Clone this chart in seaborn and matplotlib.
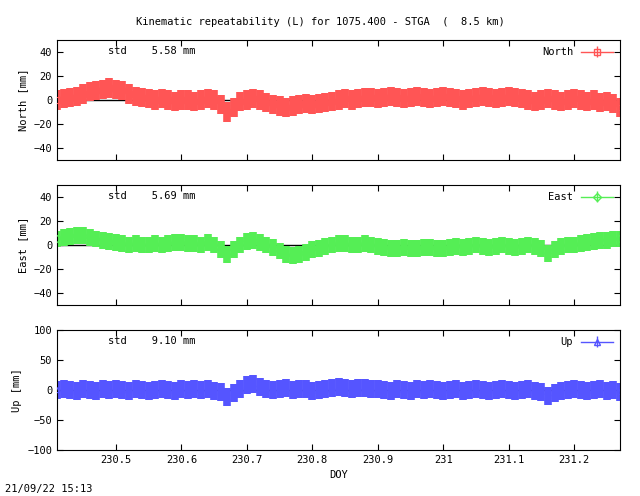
import numpy as np
import pandas as pd
import matplotlib
matplotlib.use("Agg")
import matplotlib.pyplot as plt
import seaborn as sns

doy = [round(230.41 + 0.01 * i, 2) for i in range(87)]
north = [0,1,2,3,5,7,8,9,10,9, 8,5,3,2,1,0,1,0,-1,0, 0,-1,0,1,0,-4,-10,-6,-1,0,
         1,0,-2,-4,-5,-6,-5,-4,-3,-4, -3,-2,-1,0,1,0,1,2,2,1, 2,3,2,1,2,3,2,1,2,3,
         2,1,0,1,2,3,2,1,2,3, 2,1,0,-1,0,1,0,-1,0,1, 0,-1,0,-2,-1,-3,-6]
east = [5,6,7,8,8,6,5,4,3,2, 1,0,1,0,0,1,0,1,2,2, 1,1,0,2,0,-4,-8,-4,0,3,
        4,2,0,-2,-5,-8,-9,-8,-6,-4, -3,-1,0,1,1,0,0,1,0,-1, -2,-3,-3,-2,-3,-3,-2,-2,-3,-3,
        -2,-1,-2,-1,0,-1,-2,-1,0,-1, -2,-1,0,-1,-3,-7,-4,-1,0,0, 1,2,3,4,4,5,5]
up = [0,2,0,-2,1,0,-1,2,0,1, 0,-1,1,0,-2,0,1,0,-1,2, 0,1,0,2,-1,-4,-12,-5,2,8,
      10,5,2,0,1,3,0,2,1,-1, 0,1,3,5,3,2,4,3,1,2, 0,-1,1,0,-1,2,0,1,0,-1,
      0,1,-1,0,2,0,-1,0,1,0, -1,0,1,-1,-3,-10,-5,-1,0,1, 0,-1,0,1,-2,0,-3]
spread = [8, 7, 15]
names = ["North", "East", "Up"]
stds = ["5.58", "5.69", "9.10"]
colors = ["#ff5555", "#55ee55", "#5555ff"]
markers = ["s", "D", "^"]
ylims = [(-50, 50), (-50, 50), (-100, 100)]
yticks = [[-40, -20, 0, 20, 40], [-40, -20, 0, 20, 40], [-100, -50, 0, 50, 100]]
xticks = [230.5, 230.6, 230.7, 230.8, 230.9, 231, 231.1, 231.2]
xticklabels = ["230.5", "230.6", "230.7", "230.8", "230.9", "231", "231.1", "231.2"]

plt.rcParams["font.family"] = "DejaVu Sans Mono"
plt.rcParams["font.size"] = 7.5
fig = plt.figure(figsize=(6.4, 4.96), dpi=100)
W, H = 640, 496
tops = [40, 185, 330]
for k, (vals, nm) in enumerate(zip([north, east, up], names)):
    ax = fig.add_axes([57 / W, 1 - (tops[k] + 120) / H, 563 / W, 120 / H])
    df = pd.DataFrame({"doy": doy, "v": vals})
    ax.axhline(0, color="black", lw=1, zorder=1)
    ax.errorbar(df["doy"], df["v"], yerr=spread[k], fmt="none", ecolor=colors[k],
                elinewidth=5.5, zorder=2)
    sns.scatterplot(data=df, x="doy", y="v", ax=ax, marker=markers[k], s=14,
                    facecolor="none", edgecolor=colors[k], linewidth=0.8, zorder=3, legend=False)
    ax.errorbar([], [], yerr=[], color=colors[k], marker=markers[k], mfc="none",
                ms=4, capsize=3, lw=1, label=nm)
    ax.legend(loc="upper right", frameon=False, markerfirst=False, handlelength=3,
              borderaxespad=0.3)
    ax.text(0.09, 0.88, f"std    {stds[k]} mm", transform=ax.transAxes)
    ax.set_xlim(230.41, 231.27)
    ax.set_ylim(*ylims[k])
    ax.set_yticks(yticks[k])
    ax.set_xticks(xticks)
    ax.tick_params(direction="in", top=True, right=True, length=4)
    if k == 2:
        ax.set_xticklabels(xticklabels)
        ax.set_xlabel("DOY")
    else:
        ax.set_xticklabels([])
        ax.set_xlabel("")
    ax.set_ylabel(f"{nm} [mm]")
fig.text(0.5, 1 - 22 / H, "Kinematic repeatability (L) for 1075.400 - STGA  (  8.5 km)",
         ha="center", va="center")
fig.text(5 / W, 1 - 489 / H, "21/09/22 15:13", ha="left", va="center")
fig.savefig("out.png", dpi=100)
